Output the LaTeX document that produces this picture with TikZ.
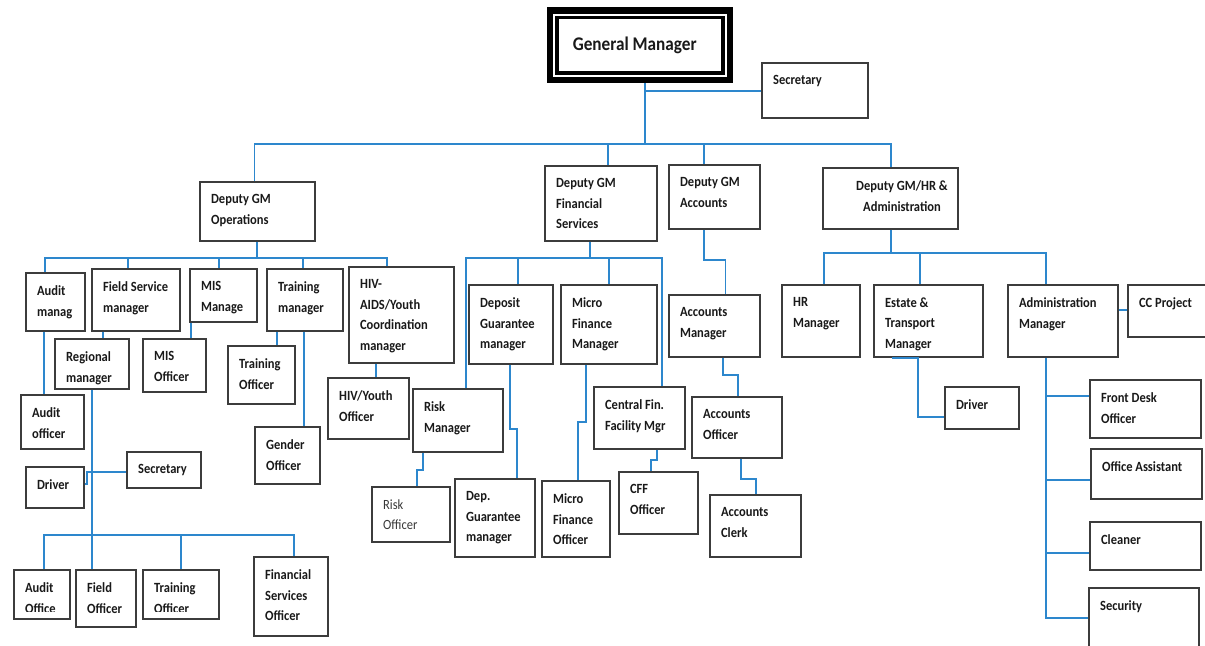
\documentclass[tikz,border=0pt]{standalone}
\usepackage{fontspec}
\setmainfont{Carlito}[FakeStretch=0.89]
\definecolor{linkblue}{RGB}{45,135,205}
\definecolor{boxgray}{RGB}{60,60,60}
\definecolor{txt}{RGB}{25,25,25}
\tikzset{
  box/.style={draw=boxgray, line width=0.85pt, rectangle, inner sep=0pt, fill=white},
  lbl/.style={anchor=north west, inner sep=0pt, xshift=0.23cm, yshift=-0.26cm, align=left,
    font=\fontsize{8}{11.7}\selectfont\bfseries, text=txt},
  lbllight/.style={lbl, font=\fontsize{8}{11.7}\selectfont, text=black!78},
  link/.style={draw=linkblue, line width=1.1pt},
}
% #1 label style, #2 name, #3 x1, #4 y1, #5 x2, #6 y2, #7 text
\newcommand\ob[7][lbl]{%
  \pgfmathsetmacro\obw{(#5-#3)*0.569055}%
  \pgfmathsetmacro\obh{(#6-#4)*0.569055}%
  \node[box, minimum width=\obw pt, minimum height=\obh pt, label={[#1]north west:{#7}}] (#2) at ({(#3+#5)/2},{(#4+#6)/2}) {};}
\begin{document}
\begin{tikzpicture}[x=0.02cm, y=-0.02cm]
\useasboundingbox (0,0) rectangle (1205,646);
\clip (0,0) rectangle (1205,646);
\fill[white] (0,0) rectangle (1205,646);

% General Manager
\node[draw=black, line width=2.28pt, minimum width=103.6pt, minimum height=40.7pt, inner sep=0pt,
  font=\fontsize{11}{13}\selectfont\bfseries, text=txt] (gm) at (640,45.25) {\raisebox{2pt}{General Manager}\hspace*{6pt}};
\draw[line width=0.97pt] ([shift={(5.2,5.2)}]gm.north west) rectangle ([shift={(-5.2,-5.2)}]gm.south east);
\draw[line width=1.88pt] ([shift={(10,10)}]gm.north west) rectangle ([shift={(-10,-10)}]gm.south east);

\ob{sec1}{762}{63}{868}{118}{Secretary}

% Deputies
\ob{dgmops}{200}{182}{315}{241}{Deputy GM\\Operations}
\ob{dgmfin}{545}{166}{657}{241}{Deputy GM\\Financial\\Services}
\ob{dgmacc}{669}{165}{760}{229}{Deputy GM\\Accounts}
\node[box, minimum width=76.8pt, minimum height=34.7pt,
  label={[lbl, anchor=north, xshift=0pt, align=center]north:{Deputy GM/HR \&\\Administration}}] (dgmhr) at (890.5,198.5) {};

% Operations
\ob{auditm}{26}{273}{85}{331}{Audit\\manag}
\ob{fieldm}{92}{269}{180}{331}{Field Service\\manager}
\ob{mism}{190}{269}{257}{322}{MIS\\Manage}
\ob{trainm}{267}{269}{343}{331}{Training\\manager}
\ob{hivm}{349}{267}{454}{363}{HIV-\\AIDS/Youth\\Coordination\\manager}
\ob{auditof}{21}{395}{84}{449}{Audit\\officer}
\ob{regm}{55}{339}{129}{389}{Regional\\manager}
\ob{misof}{143}{339}{206}{392}{MIS\\Officer}
\ob{trainof}{228}{346}{295}{404}{Training\\Officer}
\ob{gendof}{255}{427}{320}{484}{Gender\\Officer}
\ob{hivof}{328}{378}{409}{439}{HIV/Youth\\Officer}
\ob{driver1}{26}{467}{84}{508}{Driver}
\ob{sec2}{127}{452}{201}{488}{Secretary}
\ob{auditoff}{14}{570}{70}{619}{}
\ob{fieldof}{76}{570}{136}{627}{Field\\Officer}
\ob{trainof2}{143}{570}{219}{619}{}
\ob{finsof}{254}{557}{328}{636}{Financial\\Services\\Officer}
\begin{scope}
  \clip (14,560) rectangle (70,611);
  \node[lbl] (auditofftxt) at (auditoff.north west) {Audit\\Office};
\end{scope}
\begin{scope}
  \clip (143,560) rectangle (219,611);
  \node[lbl] (trainof2txt) at (trainof2.north west) {Training\\Officer};
\end{scope}

% Financial services
\ob{depm}{469}{285}{553}{364}{Deposit\\Guarantee\\manager}
\ob{mfm}{561}{285}{657}{364}{Micro\\Finance\\Manager}
\ob{riskm}{413}{389}{503}{452}{Risk\\Manager}
\ob{cfm}{594}{387}{685}{449}{Central Fin.\\Facility Mgr}
\ob[lbllight]{riskof}{372}{487}{450}{542}{Risk\\Officer}
\ob{depof}{455}{479}{535}{557}{Dep.\\Guarantee\\manager}
\ob{mfof}{542}{481}{610}{557}{Micro\\Finance\\Officer}
\ob{cffof}{619}{472}{698}{534}{CFF\\Officer}

% Accounts
\ob{accm}{669}{295}{760}{357}{Accounts\\Manager}
\ob{accof}{692}{397}{782}{458}{Accounts\\Officer}
\ob{accclk}{710}{495}{801}{557}{Accounts\\Clerk}

% HR & Administration
\ob{hrm}{782}{285}{860}{357}{HR\\Manager}
\ob{estm}{874}{285}{983}{357}{Estate \&\\Transport\\Manager}
\ob{admm}{1008}{285}{1118}{357}{Administration\\Manager}
\ob{ccp}{1128}{285}{1220}{337}{CC Project}
\ob{driver2}{945}{387}{1019}{429}{Driver}
\ob{fdo}{1090}{380}{1201}{438}{Front Desk\\Officer}
\ob{oa}{1091}{449}{1202}{499}{Office Assistant}
\ob{cln}{1090}{522}{1201}{570}{Cleaner}
\ob{secu}{1089}{588}{1199}{670}{Security}

% ---------- connectors ----------
\coordinate (tg) at (645,144);
\coordinate (ts) at (645,91);
\coordinate (t1) at (254.5,144);
\coordinate (t2) at (607.7,144);
\coordinate (t3) at (704,144);
\coordinate (t4) at (891,144);
\draw[link] (tg |- gm.south) -- (tg);
\draw[link] (ts) -- (ts -| sec1.west);
\draw[link] (t1 |- dgmops.north) -- (t1) -- (t4) -- (t4 |- dgmhr.north);
\draw[link] (t2) -- (t2 |- dgmfin.north);
\draw[link] (t3) -- (t3 |- dgmacc.north);

% operations
\coordinate (o0) at (257,258);
\coordinate (o1) at (45,258);
\coordinate (o2) at (128,258);
\coordinate (o3) at (219,258);
\coordinate (o4) at (303,258);
\coordinate (o5) at (387,258);
\draw[link] (o0 |- dgmops.south) -- (o0);
\draw[link] (o1 |- auditm.north) -- (o1) -- (o5) -- (o5 |- hivm.north);
\draw[link] (o2) -- (o2 |- fieldm.north);
\draw[link] (o3) -- (o3 |- mism.north);
\draw[link] (o4) -- (o4 |- trainm.north);
\coordinate (v1) at (44,0);
\coordinate (v2) at (103,0);
\coordinate (v3) at (191,0);
\coordinate (v4) at (277,0);
\coordinate (v5) at (304,0);
\coordinate (v6) at (376,0);
\draw[link] (v1 |- auditm.south) -- (v1 |- auditof.north);
\draw[link] (v2 |- fieldm.south) -- (v2 |- regm.north);
\draw[link] (v3 |- mism.south) -- (v3 |- misof.north);
\draw[link] (v4 |- trainm.south) -- (v4 |- trainof.north);
\draw[link] (v5 |- trainm.south) -- (v5 |- gendof.north);
\draw[link] (v6 |- hivm.south) -- (v6 |- hivof.north);
\coordinate (ds1) at (87,484);
\coordinate (ds2) at (87,472);
\draw[link] (ds1 -| driver1.east) -- (ds1) -- (ds2) -- (ds2 -| sec2.west);
\coordinate (r0) at (92,535);
\coordinate (r1) at (44,535);
\coordinate (r3) at (181,535);
\coordinate (r4) at (294,535);
\draw[link] (r0 |- regm.south) -- (r0 |- fieldof.north);
\draw[link] (r1 |- auditoff.north) -- (r1) -- (r4) -- (r4 |- finsof.north);
\draw[link] (r3) -- (r3 |- trainof2.north);

% financial services
\coordinate (f0) at (590,258);
\coordinate (f1) at (466,258);
\coordinate (f2) at (518,258);
\coordinate (f3) at (609,258);
\coordinate (f4) at (662,258);
\draw[link] (f0 |- dgmfin.south) -- (f0);
\draw[link] (f1 |- riskm.north) -- (f1) -- (f4) -- (f4 |- cfm.north);
\draw[link] (f2) -- (f2 |- depm.north);
\draw[link] (f3) -- (f3 |- mfm.north);
\coordinate (s1a) at (423,470); \coordinate (s1b) at (417,470);
\draw[link] (s1a |- riskm.south) -- (s1a) -- (s1b) -- (s1b |- riskof.north);
\coordinate (s2a) at (510,429); \coordinate (s2b) at (517,429);
\draw[link] (s2a |- depm.south) -- (s2a) -- (s2b) -- (s2b |- depof.north);
\coordinate (s3a) at (586,422); \coordinate (s3b) at (578,422);
\draw[link] (s3a |- mfm.south) -- (s3a) -- (s3b) -- (s3b |- mfof.north);
\coordinate (s4a) at (657,460); \coordinate (s4b) at (651,460);
\draw[link] (s4a |- cfm.south) -- (s4a) -- (s4b) -- (s4b |- cffof.north);

% accounts
\coordinate (s5a) at (704,260); \coordinate (s5b) at (725.5,260);
\draw[link] (s5a |- dgmacc.south) -- (s5a) -- (s5b) -- (s5b |- accm.north);
\coordinate (s6a) at (723,375); \coordinate (s6b) at (738,375);
\draw[link] (s6a |- accm.south) -- (s6a) -- (s6b) -- (s6b |- accof.north);
\coordinate (s7a) at (741,479); \coordinate (s7b) at (756,479);
\draw[link] (s7a |- accof.south) -- (s7a) -- (s7b) -- (s7b |- accclk.north);

% HR and administration
\coordinate (h0) at (891,253);
\coordinate (h1) at (824,253);
\coordinate (h2) at (920,253);
\coordinate (h3) at (1046,253);
\draw[link] (h0 |- dgmhr.south) -- (h0);
\draw[link] (h1 |- hrm.north) -- (h1) -- (h3) -- (h3 |- admm.north);
\draw[link] (h2) -- (h2 |- estm.north);
\coordinate (e1) at (892,357);
\coordinate (e2) at (918,417);
\draw[link] (e1 |- estm.south) -- (e2 |- estm.south) -- (e2) -- (e2 -| driver2.west);
\coordinate (ad1) at (1046,396);
\coordinate (ad2) at (1046,480);
\coordinate (ad3) at (1046,553);
\coordinate (ad4) at (1046,618);
\draw[link] (ad4 |- admm.south) -- (ad4) -- (ad4 -| secu.west);
\draw[link] (ad1) -- (ad1 -| fdo.west);
\draw[link] (ad2) -- (ad2 -| oa.west);
\draw[link] (ad3) -- (ad3 -| cln.west);
\coordinate (cc) at (1118,310);
\draw[link] (cc -| admm.east) -- (cc -| ccp.west);
\end{tikzpicture}
\end{document}
